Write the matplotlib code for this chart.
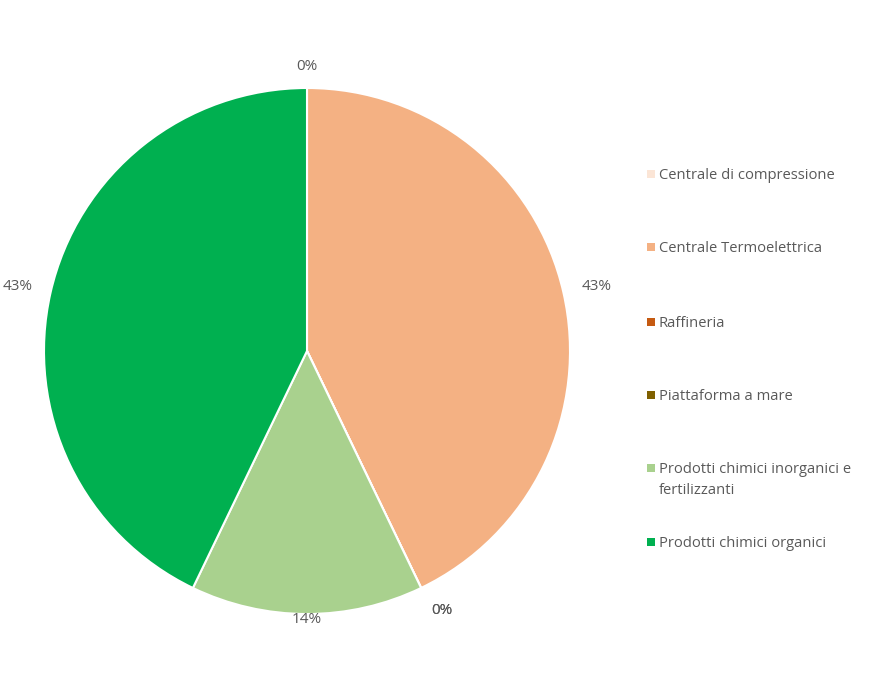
import numpy as np
import matplotlib.pyplot as plt
from matplotlib.patches import Rectangle

categorie = ["Centrale di compressione", "Centrale Termoelettrica", "Raffineria",
             "Piattaforma a mare", "Prodotti chimici inorganici e\nfertilizzanti",
             "Prodotti chimici organici"]
valori = [0, 3, 0, 0, 1, 3]
colori = ["#FBE5D6", "#F4B183", "#C55A11", "#7F6000", "#A9D18E", "#00B050"]

# distanza etichette (in raggi) e spostamento in punti, per imitare Excel
dist_etichette = [1.088, 1.13, 1.10, 1.10, 1.015, 1.13]
spost_etichette = [(0, 0), (0, 0), (7, 2), (7, 2), (0, 0), (0, 0)]

plt.rcParams['font.family'] = ['Open Sans', 'DejaVu Sans']
testo_col = "#595959"

W, H = 882, 682
fig = plt.figure(figsize=(W / 100, H / 100), dpi=100)

# asse della torta: centro (307, 351) px, raggio 263 px
cx, cy, r = 307, 351, 263
ax = fig.add_axes([(cx - r) / W, (H - cy - r) / H, 2 * r / W, 2 * r / H])
wedges, _ = ax.pie(valori, colors=colori, startangle=90, counterclock=False,
                   wedgeprops=dict(edgecolor="white", linewidth=1.5))
ax.set_xlim(-1, 1)
ax.set_ylim(-1, 1)
ax.set_aspect("equal")

totale = sum(valori)
for w, v, d, off in zip(wedges, valori, dist_etichette, spost_etichette):
    ang = np.deg2rad((w.theta1 + w.theta2) / 2)
    ax.annotate(f"{v / totale * 100:.0f}%", (d * np.cos(ang), d * np.sin(ang)),
                xytext=off, textcoords="offset points", annotation_clip=False,
                ha="center", va="center_baseline", fontsize=11, color=testo_col)

# legenda disegnata a mano (posizioni in pixel)
leg_y = [174, 247, 322, 395, 468, 542]
for lab, col, y in zip(categorie, colori, leg_y):
    fig.patches.append(Rectangle((647 / W, 1 - (y + 4) / H), 8 / W, 8 / H,
                                 transform=fig.transFigure, facecolor=col,
                                 edgecolor="none"))
    fig.text(659 / W, 1 - (y - 6) / H, lab, ha="left", va="top",
             fontsize=10.6, color=testo_col, linespacing=1.55)

fig.savefig("out.png", dpi=100)
